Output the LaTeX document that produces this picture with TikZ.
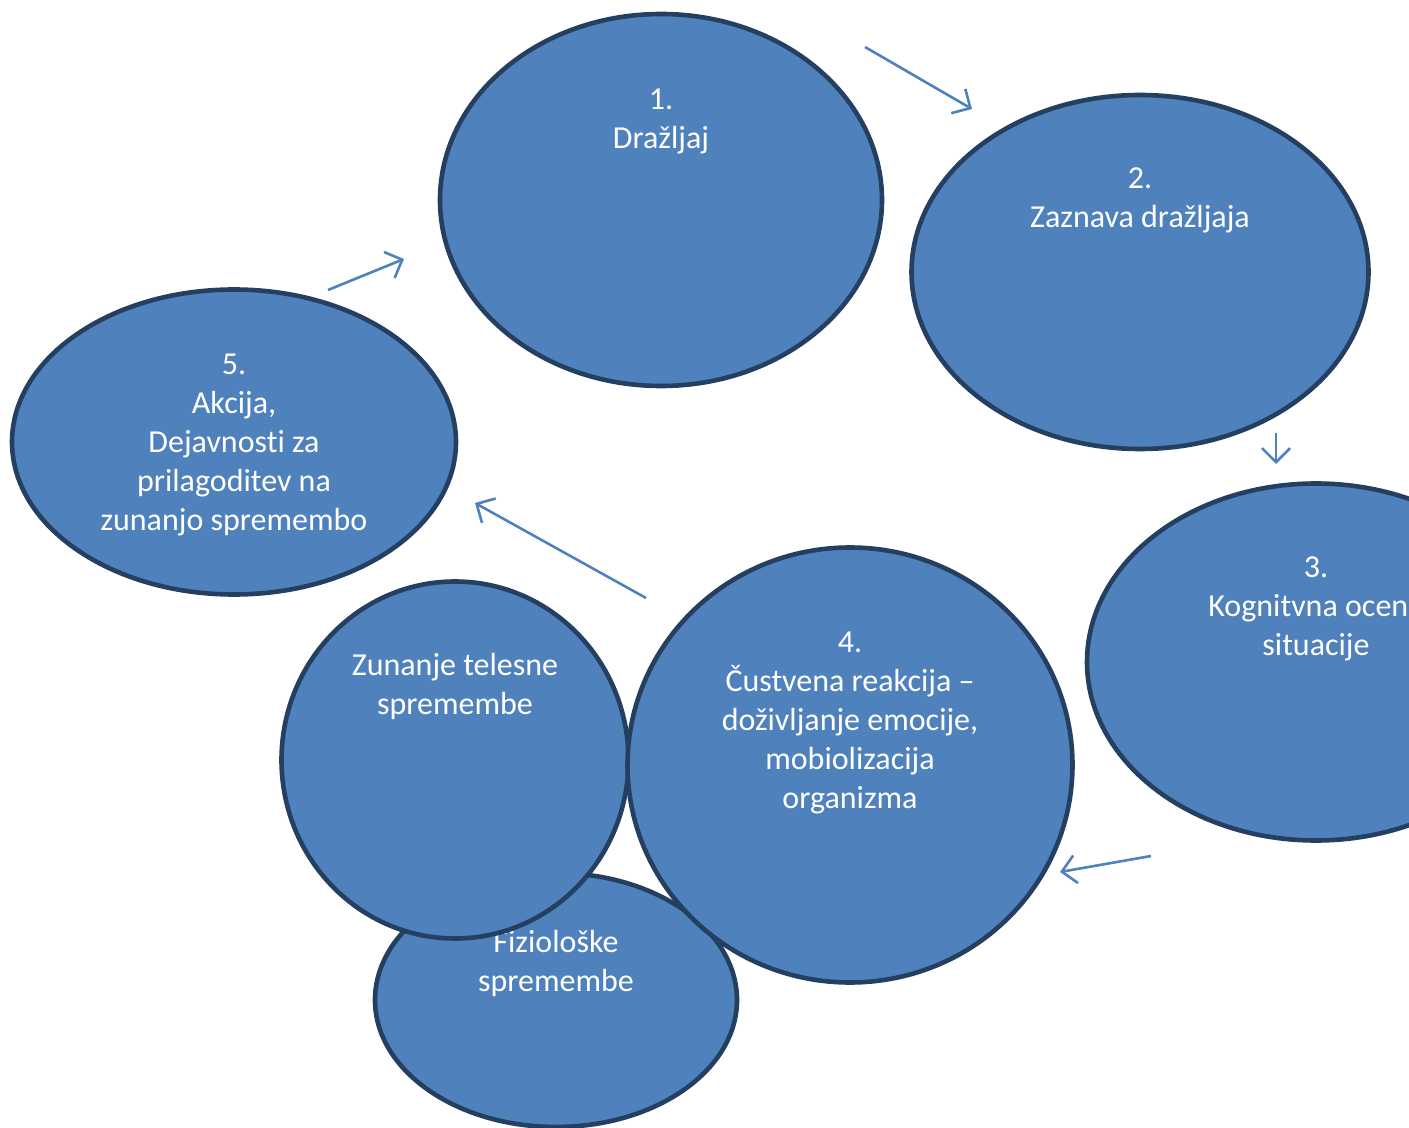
\documentclass[tikz,border=0pt]{standalone}
\usepackage{fontspec}
\setmainfont{Carlito}[Ligatures=CommonOff]
\usetikzlibrary{shapes,arrows.meta,calc}
\definecolor{bubblefill}{HTML}{4F81BD}
\definecolor{bubbleline}{HTML}{243F60}
\tikzset{>={Straight Barb[length=7pt,width=14pt]}}
\tikzset{
  bubble/.style = {ellipse, fill=bubblefill, draw=bubbleline, line width=2.3pt, inner sep=0pt},
  bubbletext/.style = {text=white, align=center, anchor=north, inner sep=0pt,
    font=\fontsize{16}{19.5}\selectfont}
}
\newcommand{\picw}{1409}
\newcommand{\pich}{1128}

\begin{document}
\begin{tikzpicture}[x=0.5pt,y=-0.5pt]
  \tikzstyle{flow}=[line width=1.3pt, draw=bubblefill, ->]
  \useasboundingbox (0,0) rectangle (\picw,\pich);
  \clip (0,0) rectangle (\picw,\pich);
  \node[bubble, minimum width=221pt, minimum height=186pt] (n1) at (661,200) {};
  \node[bubbletext] (t1) at ($(n1.center)+(0,-111)$) {1.\\ Dražljaj};
  \node[bubble, minimum width=228.5pt, minimum height=177pt] (n2) at (1140,272) {};
  \node[bubbletext] (t2) at ($(n2.center)+(0,-105)$) {2.\\ Zaznava dražljaja};
  \node[bubble, minimum width=229pt, minimum height=178.5pt] (n3) at (1316,662) {};
  \node[bubbletext] (t3) at ($(n3.center)+(0,-106)$) {3.\\ Kognitvna ocena\\ situacije};
  \node[bubble, minimum width=222pt, minimum height=152.5pt] (n5) at (234,442) {};
  \node[bubbletext] (t5) at ($(n5.center)+(0,-88)$) {5.\\ Akcija,\\ Dejavnosti za\\ prilagoditev na\\ zunanjo spremembo};
  \node[bubble, minimum width=181pt, minimum height=127pt] (fiz) at (556,1000) {};
  \node[bubbletext] (tfiz) at ($(fiz.center)+(0,-70)$) {Fiziološke\\ spremembe};
  \node[bubble, minimum width=173.5pt, minimum height=178.5pt] (zun) at (455,760) {};
  \node[bubbletext] (tzun) at ($(zun.center)+(0,-107)$) {Zunanje telesne\\ spremembe};
  \node[bubble, minimum width=222.5pt, minimum height=217.5pt] (n4) at (850,765) {};
  \node[bubbletext] (t4) at ($(n4.center)+(0,-133)$) {4.\\ Čustvena reakcija --\\ doživljanje emocije,\\ mobiolizacija\\ organizma};
  \coordinate (a1s) at (865,47);
  \coordinate (a1e) at (972,109);
  \coordinate (a2s) at (1276,433);
  \coordinate (a2e) at (1276,464);
  \coordinate (a3s) at (1151,856);
  \coordinate (a3e) at (1060,872);
  \coordinate (a4s) at (646,598);
  \coordinate (a4e) at (475,503);
  \coordinate (a5s) at (328,290);
  \coordinate (a5e) at (404,259);
  \draw[flow] (a1s) -- (a1e);
  \draw[flow] (a2s) -- (a2e);
  \draw[flow] (a3s) -- (a3e);
  \draw[flow] (a4s) -- (a4e);
  \draw[flow] (a5s) -- (a5e);
\end{tikzpicture}
\end{document}
